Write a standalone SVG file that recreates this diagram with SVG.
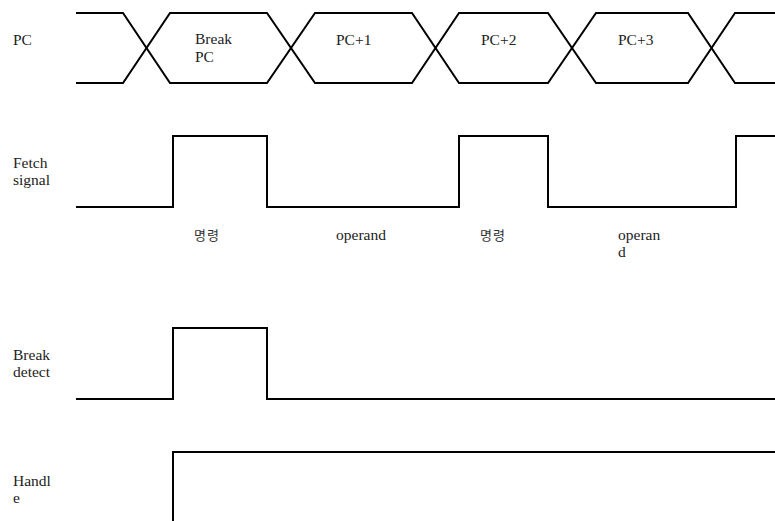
<svg xmlns="http://www.w3.org/2000/svg" width="775" height="521" viewBox="0 0 775 521">
<style>
.w{fill:none;stroke:#000;stroke-width:2;stroke-linejoin:miter}
</style>
<rect width="775" height="521" fill="#fff"/>
<g id="connectors">
<path class="w" d="M76,13 H123 L170,83 H267 L315,13 H412 L459,83 H548 L596,13 H688 L735,83 H775"/>
<path class="w" d="M76,83 H123 L170,13 H267 L315,83 H412 L459,13 H548 L596,83 H688 L735,13 H775"/>
<path class="w" d="M76,207 H173 V136 H267 V207 H459 V136 H548 V207 H736 V136 H775"/>
<path class="w" d="M76,399 H173 V328 H267 V399 H775"/>
<path class="w" d="M173,521 V452 H775"/>
</g>
<g font-family="Liberation Serif, DejaVu Serif, serif" font-size="15.5" fill="#222">
<g id="pc">
<text x="13" y="45">PC</text>
<text x="195" y="44">Break</text>
<text x="195" y="62">PC</text>
<text x="336" y="45">PC+1</text>
<text x="481" y="45">PC+2</text>
<text x="618" y="45">PC+3</text>
</g>
<g id="fetch">
<text x="13" y="168">Fetch</text>
<text x="13" y="185">signal</text>
<text x="194" y="240" font-family="Noto Sans CJK KR, sans-serif" font-size="13" letter-spacing="1" fill="#333">명령</text>
<text x="336" y="240">operand</text>
<text x="480" y="240" font-family="Noto Sans CJK KR, sans-serif" font-size="13" letter-spacing="1" fill="#333">명령</text>
<text x="618" y="240">operan</text>
<text x="618" y="257">d</text>
</g>
<g id="break">
<text x="13" y="360">Break</text>
<text x="13" y="377">detect</text>
</g>
<g id="handle">
<text x="13" y="486">Handl</text>
<text x="13" y="503">e</text>
</g>
</g>
</svg>
